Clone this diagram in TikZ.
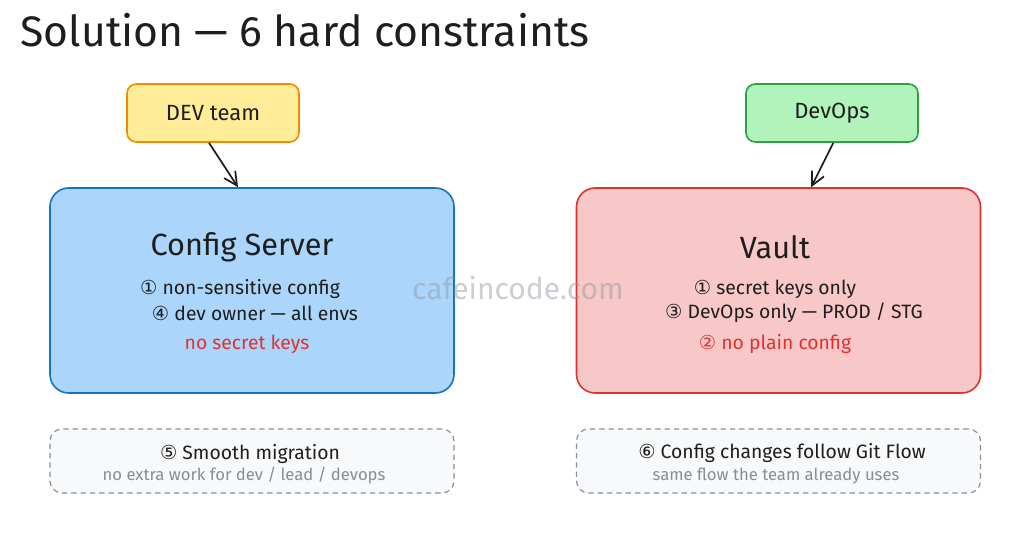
\documentclass[tikz,border=0pt]{standalone}
\usepackage{fontspec}
\setmainfont{Fira Sans}
\newfontfamily\symf{DejaVu Sans}
\usetikzlibrary{arrows.meta}
\definecolor{yfill}{HTML}{FFEC99}\definecolor{ydraw}{HTML}{F08C00}
\definecolor{gfill}{HTML}{B2F2BB}\definecolor{gdraw}{HTML}{2F9E44}
\definecolor{bfill}{HTML}{ABD5FA}\definecolor{bdraw}{HTML}{1971C2}
\definecolor{rfill}{HTML}{F8C8C8}\definecolor{rdraw}{HTML}{E03131}
\definecolor{nfill}{HTML}{F8F9FA}\definecolor{ndraw}{HTML}{8A9097}
\definecolor{ink}{HTML}{1E1E1E}\definecolor{redtxt}{HTML}{E03131}
\definecolor{graytxt}{HTML}{868E96}\definecolor{wm}{HTML}{8C96A0}
\newcommand{\cd}[1]{{\symf #1}}
\begin{document}
\begin{tikzpicture}[x=0.75pt,y=-0.75pt,
  actor/.style={draw, line width=1.2pt, rounded corners=7pt, minimum width=172*0.75pt, minimum height=58*0.75pt, font=\fontsize{16.5}{19}\selectfont, text=ink},
  bigbox/.style={draw, line width=1.2pt, rounded corners=14pt, minimum width=404*0.75pt, minimum height=205*0.75pt},
  notebox/.style={draw=ndraw, fill=nfill, dashed, dash pattern=on 4pt off 3pt, line width=0.9pt, rounded corners=9pt, minimum width=404*0.75pt, minimum height=64*0.75pt},
  head/.style={font=\fontsize{23}{27}\selectfont, text=ink},
  body/.style={font=\fontsize{14.5}{17}\selectfont, text=ink},
  small/.style={font=\fontsize{12.5}{15}\selectfont, text=graytxt},
  arr/.style={-{Straight Barb[length=10pt,width=10pt]}, line width=1.3pt, draw=ink}]
\useasboundingbox[fill=white] (0,0) rectangle (1024,553);
\node[anchor=west, font=\fontsize{32}{38}\selectfont, text=ink] (title) at (16,30) {Solution — 6 hard constraints};
\node[actor, fill=yfill, draw=ydraw] (dev) at (213,113) {DEV team};
\node[actor, fill=gfill, draw=gdraw] (ops) at (832,113) {DevOps};
\node[bigbox, fill=bfill, draw=bdraw] (cfg) at (252,290.5) {};
\node[bigbox, fill=rfill, draw=rdraw] (vault) at (778.5,290.5) {};
\node[notebox] (n5) at (252,461) {};
\node[notebox] (n6) at (778.5,461) {};
\draw[arr] ([xshift=-3pt]dev.south) -- ([xshift=-10.5pt]cfg.north);
\draw[arr] ([xshift=1pt]ops.south) -- ([xshift=24.5pt]vault.north);
\node[text=wm, opacity=0.45, font=\fontsize{22.5}{26}\selectfont] (wmk) at (518,288) {cafeincode.com};
\node[head] (cfgt) at (242,247) {Config Server};
\node[body] (c1) at (240,289) {\cd{①} non-sensitive config};
\node[body] (c2) at (255,313) {\cd{④} dev owner — all envs};
\node[body, text=redtxt] (c3) at (247,344) {no secret keys};
\node[head] (vt) at (775,247) {Vault};
\node[body] (v1) at (775,289) {\cd{①} secret keys only};
\node[body] (v2) at (794,313) {\cd{③} DevOps only — PROD / STG};
\node[body, text=redtxt] (v3) at (775,344) {\cd{②} no plain config};
\node[body] (s5) at (250,454) {\cd{⑤} Smooth migration};
\node[small] (s5b) at (244,476) {no extra work for dev / lead / devops};
\node[body] (s6) at (782,453) {\cd{⑥} Config changes follow Git Flow};
\node[small] (s6b) at (776,476) {same flow the team already uses};
\end{tikzpicture}
\end{document}
